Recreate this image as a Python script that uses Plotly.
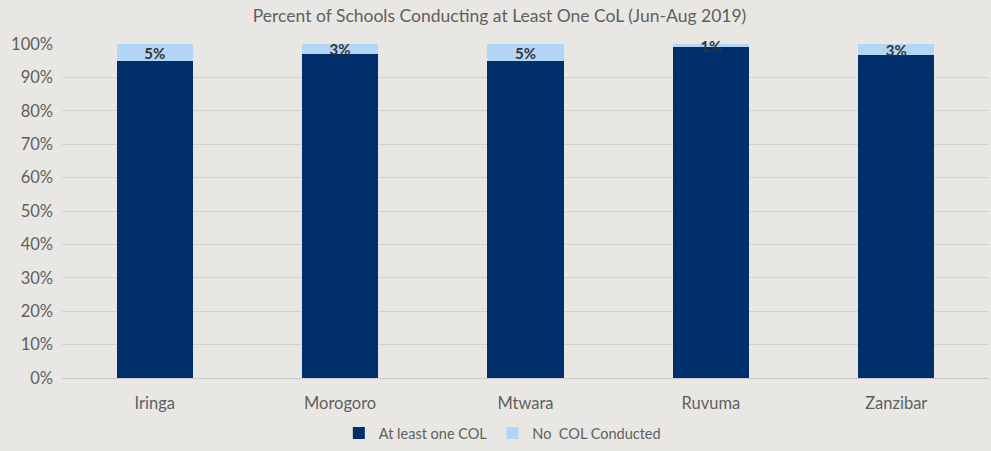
import plotly.graph_objects as go

regions = ["Iringa", "Morogoro", "Mtwara", "Ruvuma", "Zanzibar"]
at_least_one = [95, 97, 95, 99, 96.6]
no_col = [5, 3, 5, 1, 3.4]
no_col_labels = ["5%", "3%", "5%", "1%", "3%"]

font = "Lato, 'Open Sans', sans-serif"
grey = "#5f5f5f"

fig = go.Figure()
fig.add_trace(go.Bar(x=regions, y=at_least_one, name="At least one COL",
                     marker_color="#002f6c", marker_line_width=0))
fig.add_trace(go.Bar(x=regions, y=no_col, name="No  COL Conducted",
                     marker_color="#b3d5f6", marker_line_width=0))
fig.add_trace(go.Scatter(x=regions, y=[a + n / 2 - 0.8 for a, n in zip(at_least_one, no_col)],
                         text=no_col_labels, mode="text", textposition="middle center",
                         textfont=dict(family=font, size=15, color="#333333", weight="bold"),
                         showlegend=False, hoverinfo="skip", cliponaxis=False))

fig.update_layout(
    barmode="stack", bargap=0.59,
    width=991, height=451,
    paper_bgcolor="#e8e7e3", plot_bgcolor="#e8e7e3",
    margin=dict(l=62, r=2, t=44, b=70),
    font=dict(family=font, size=16, color=grey),
    title=dict(text="Percent of Schools Conducting at Least One CoL (Jun-Aug 2019)",
               x=0.472, xref="paper", y=0.965, yanchor="middle",
               font=dict(size=17.5, color=grey)),
    legend=dict(orientation="h", x=0.475, xanchor="center", y=-0.165, yanchor="middle",
                font=dict(size=14.5, color=grey), traceorder="normal"),
    xaxis=dict(showgrid=False, showline=True, linecolor="#c8c8c8", ticks="",
               ticklabelstandoff=10, tickfont=dict(size=16.5, color=grey)),
    yaxis=dict(range=[0, 100], dtick=10, ticksuffix="%", gridcolor="#d2d2d0",
               zeroline=False, ticks="", ticklabelstandoff=8,
               tickfont=dict(size=16.5, color=grey)),
)
fig.write_html("out.html")
